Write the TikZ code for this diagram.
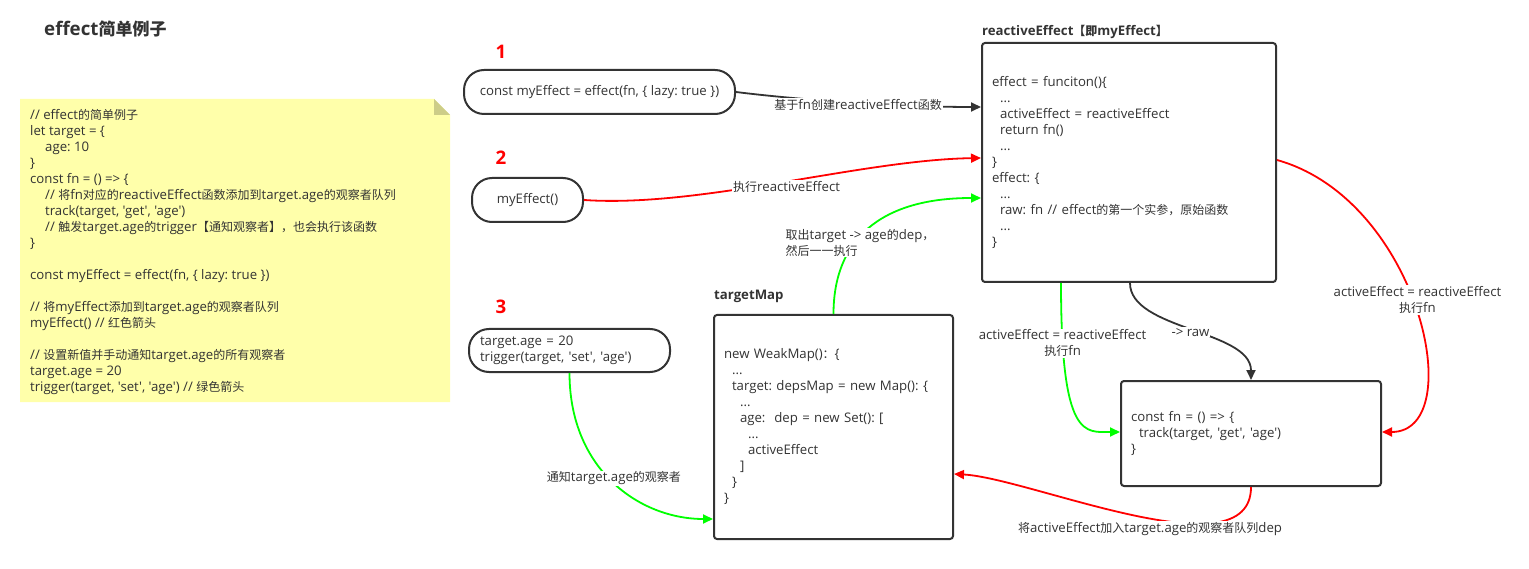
\documentclass[tikz,border=0pt]{standalone}
\usepackage{fontspec}
\setmainfont{Open Sans}[Scale=1.1, Ligatures=TeXOff]
\newfontfamily\cjkf{Noto Sans CJK SC}
\frenchspacing
\newcount\cjkcnt
\cjkcnt="4E00 \loop \XeTeXcharclass\cjkcnt=1 \advance\cjkcnt by 1 \ifnum\cjkcnt<"A000 \repeat
\cjkcnt="3000 \loop \XeTeXcharclass\cjkcnt=1 \advance\cjkcnt by 1 \ifnum\cjkcnt<"3040 \repeat
\cjkcnt="FF00 \loop \XeTeXcharclass\cjkcnt=1 \advance\cjkcnt by 1 \ifnum\cjkcnt<"FFF0 \repeat
\XeTeXinterchartokenstate=1
\XeTeXinterchartoks 0 1 = {\cjkf}
\XeTeXinterchartoks 4095 1 = {\cjkf}
\XeTeXinterchartoks 1 0 = {\rmfamily}
\XeTeXinterchartoks 1 4095 = {\rmfamily}
\usetikzlibrary{arrows.meta}
\definecolor{ink}{HTML}{333333}
\definecolor{notefill}{HTML}{FFFFAA}
\definecolor{notefold}{HTML}{CDCD88}
\definecolor{myred}{HTML}{FF0000}
\definecolor{mygreen}{HTML}{00FF00}
\begin{document}
\begin{tikzpicture}[x=1pt,y=-1pt,
  txt/.style={font=\fontsize{12}{16}\selectfont\frenchspacing, text=ink, inner sep=0pt, align=left},
  codebox/.style={draw=ink, line width=2pt, rounded corners=3pt, font=\fontsize{12}{16}\selectfont\frenchspacing, text=ink, align=left, inner xsep=10pt, inner ysep=0pt},
  pill/.style={draw=ink, line width=2pt, rounded corners=20pt, font=\fontsize{12}{16}\selectfont\frenchspacing, text=ink, inner sep=0pt},
  conn/.style={line width=1.8pt, -{Triangle[length=10pt,width=9pt]}},
  lab/.style={fill=white, font=\fontsize{12}{16}\selectfont\frenchspacing, text=ink, inner sep=1pt, align=center},
  num/.style={font=\fontsize{17}{20}\selectfont\bfseries, text=myred, inner sep=0pt},
  head/.style={font=\fontsize{12}{14}\selectfont\bfseries, text=ink, inner sep=0pt, anchor=west},
  title/.style={font=\fontsize{17}{20}\selectfont\bfseries, text=ink, inner sep=0pt, anchor=west}
]
\useasboundingbox (0,0) rectangle (1529,569);

% title
\node[title] (title) at (44,29) {effect简单例子};

% note
\fill[notefill] (20,99) -- (434,99) -- (450,115) -- (450,402) -- (20,402) -- cycle;
\fill[notefold] (434,99) -- (434,115) -- (450,115) -- cycle;
\node[txt, anchor=west] (notetext) at (30,252) {%
// effect的简单例子\\
let target = \{\\
\hspace*{15pt}age: 10\\
\}\\
const fn = () => \{\\
\hspace*{15pt}// 将fn对应的reactiveEffect函数添加到target.age的观察者队列\\
\hspace*{15pt}track(target, 'get', 'age')\\
\hspace*{15pt}// 触发target.age的trigger【通知观察者】，也会执行该函数\\
\}\\[16pt]
const myEffect = effect(fn, \{ lazy: true \})\\[16pt]
// 将myEffect添加到target.age的观察者队列\\
myEffect() // 红色箭头\\[16pt]
// 设置新值并手动通知target.age的所有观察者\\
target.age = 20\\
trigger(target, 'set', 'age') // 绿色箭头};

% step numbers
\node[num] (n1) at (501,52) {1};
\node[num] (n2) at (501,158) {2};
\node[num] (n3) at (501,307) {3};

% left boxes
\node[pill, minimum width=271pt, minimum height=44pt] (box1) at (599.5,92) {const myEffect = effect(fn, \{ lazy: true \})};
\node[pill, minimum width=111pt, minimum height=44pt] (box2) at (527.5,200) {myEffect()};
\node[pill, minimum width=201pt, minimum height=43pt, text width=179pt, align=left] (box3) at (569.5,350.5) {target.age = 20\\trigger(target, 'set', 'age')};

% reactiveEffect box
\node[head] (relabel) at (982,32) {reactiveEffect【即myEffect】};
\node[codebox, text width=274pt, minimum height=239pt] (re) at (1129,162.5) {%
effect = funciton()\{\\
\hspace*{8pt}...\\
\hspace*{8pt}activeEffect = reactiveEffect\\
\hspace*{8pt}return fn()\\
\hspace*{8pt}...\\
\}\\
effect: \{\\
\hspace*{8pt}...\\
\hspace*{8pt}raw: fn // effect的第一个实参，原始函数\\
\hspace*{8pt}...\\
\}};

% targetMap box
\node[head] (tmlabel) at (714,296) {targetMap};
\node[codebox, text width=219pt, minimum height=224pt] (tm) at (833.5,427) {%
new WeakMap()：\{\\
\hspace*{8pt}...\\
\hspace*{8pt}target: depsMap = new Map(): \{\\
\hspace*{16pt}...\\
\hspace*{16pt}age:\ \ dep = new Set(): [\\
\hspace*{24pt}...\\
\hspace*{24pt}activeEffect\\
\hspace*{16pt}]\\
\hspace*{8pt}\}\\
\}};

% fn box
\node[codebox, text width=240pt, minimum height=105pt] (fnbox) at (1251,433.5) {%
const fn = () => \{\\
\hspace*{8pt}track(target, 'get', 'age')\\
\}};

% connectors
\draw[conn, ink] (box1.east) .. controls (800,100) and (900,107) ..
  node[lab, pos=0.5, xshift=6pt, yshift=-2pt] (l1) {基于fn创建reactiveEffect函数}
  ([yshift=55.5pt]re.west);
\draw[conn, myred] (box2.east) .. controls (700,208) and (860,160) ..
  node[lab, pos=0.5, xshift=6pt, yshift=-4pt] (l2) {执行reactiveEffect}
  ([yshift=4.5pt]re.west);
\draw[conn, mygreen] (tm.north) .. controls (833.5,240) and (880,198) ..
  node[lab, pos=0.33, xshift=11pt, yshift=9pt, align=left] (l3) {取出target -> age的dep，\\然后一一执行}
  ([yshift=-35.5pt]re.west);
\draw[conn, mygreen] (box3.south) .. controls (569.5,470) and (640,519) ..
  node[lab, pos=0.5, yshift=4pt] (l4) {通知target.age的观察者}
  ([yshift=-92pt]tm.west);
\draw[conn, mygreen] ([xshift=-68pt]re.south) .. controls (1061,440) and (1085,432) ..
  node[lab, pos=0.15] (l5) {activeEffect = reactiveEffect\\执行fn}
  ([yshift=1.5pt]fnbox.west);
\draw[conn, ink] ([xshift=1pt]re.south) .. controls (1130,330) and (1251,330) ..
  node[lab, pos=0.5, yshift=-2pt] (l6) {-> raw}
  (fnbox.north);
\draw[conn, myred] ([yshift=2.5pt]re.east) .. controls (1420,200) and (1470,432) ..
  node[lab, pos=0.45, xshift=8pt, yshift=-8pt] (l7) {activeEffect = reactiveEffect\\执行fn}
  ([yshift=1.5pt]fnbox.east);
\draw[conn, myred] (fnbox.south) .. controls (1251,575) and (1030,478) ..
  node[lab, pos=0.45, yshift=-10pt] (l8) {将activeEffect加入target.age的观察者队列dep}
  ([yshift=-47pt]tm.east);
\end{tikzpicture}
\end{document}
